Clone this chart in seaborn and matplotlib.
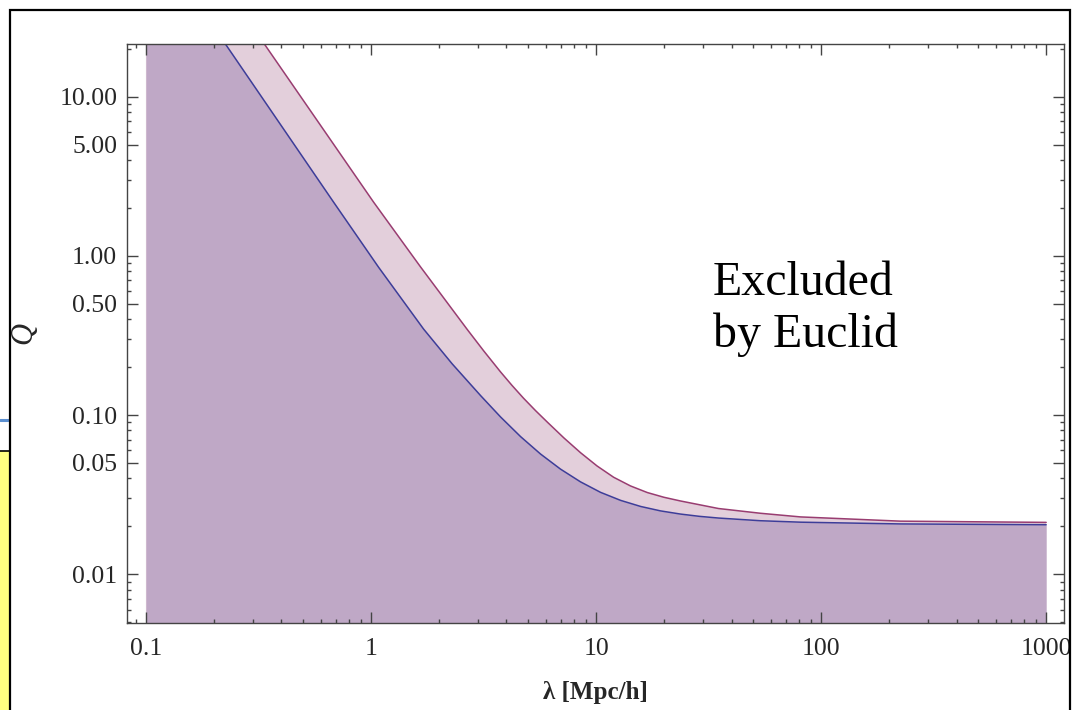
import numpy as np
import pandas as pd
import matplotlib
matplotlib.use("Agg")
import matplotlib.pyplot as plt
import matplotlib.ticker as mticker
from matplotlib.patches import Rectangle
from matplotlib.lines import Line2D
import seaborn as sns

# values (lambda in Mpc/h, Q)
lam_blue = [0.1, 0.2256, 0.681, 1.08, 1.712, 2.293, 3.07, 3.766, 4.62, 5.667, 6.95, 8.531,
            10.47, 12.86, 15.8, 19.36, 23.7, 28.8, 35.0, 53.8, 81.1, 225, 1000]
q_blue = [113, 21.38, 2.18, 0.849, 0.347, 0.2099, 0.1324, 0.0972, 0.0732, 0.0569, 0.04575, 0.03804,
          0.03269, 0.0291, 0.02664, 0.02499, 0.02388, 0.0231, 0.02254, 0.02168, 0.02123, 0.0207, 0.02046]

lam_red = [0.1, 0.336, 1.026, 1.66, 2.685, 3.178, 3.76, 4.23, 4.76, 5.384, 6.09, 7.209, 8.53,
           10.10, 11.97, 14.22, 16.9, 20.02, 23.7, 35.0, 53.8, 81.1, 225, 1000]
q_red = [256, 21.38, 2.178, 0.852, 0.3428, 0.2515, 0.1869, 0.1536, 0.1276, 0.1066, 0.08994, 0.07166, 0.05802,
         0.04789, 0.04066, 0.03587, 0.03259, 0.03044, 0.02886, 0.02587, 0.02415, 0.02291, 0.02155, 0.02117]

x_ticks = [0.1, 1, 10, 100, 1000]
x_tick_labels = ["0.1", "1", "10", "100", "1000"]
y_ticks = [0.01, 0.05, 0.1, 0.5, 1, 5, 10]
y_tick_labels = ["0.01", "0.05", "0.10", "0.50", "1.00", "5.00", "10.00"]

blue = "#3d3d99"
red = "#993d71"
purple_fill = "#bfa8c6"
pink_fill = "#e3cfdb"
spine_col = "#444444"

sns.set_style("ticks")
plt.rcParams['font.family'] = ['Liberation Serif', 'DejaVu Serif']

df_blue = pd.DataFrame({"lam": lam_blue, "Q": q_blue})
df_red = pd.DataFrame({"lam": lam_red, "Q": q_red})

fig = plt.figure(figsize=(10.72, 7.10), dpi=100)
ax = fig.add_axes([127 / 1072, 87 / 710, 937 / 1072, 579 / 710])

ymin, ymax = 0.00494, 21.4

# filled regions down to the bottom edge
ax.fill_between(df_red["lam"], ymin, df_red["Q"], color=pink_fill, lw=0, zorder=1)
ax.fill_between(df_blue["lam"], ymin, df_blue["Q"], color=purple_fill, lw=0, zorder=1.1)

sns.lineplot(data=df_red, x="lam", y="Q", color=red, lw=1.1, ax=ax, sort=False,
             errorbar=None, zorder=2)
sns.lineplot(data=df_blue, x="lam", y="Q", color=blue, lw=1.1, ax=ax, sort=False,
             errorbar=None, zorder=2)

ax.set_xscale("log")
ax.set_yscale("log")
ax.set_xlim(0.0824, 1200)
ax.set_ylim(ymin, ymax)

ax.xaxis.set_major_locator(mticker.FixedLocator(x_ticks))
ax.xaxis.set_major_formatter(mticker.FixedFormatter(x_tick_labels))
ax.xaxis.set_minor_locator(mticker.LogLocator(base=10, subs=np.arange(2, 10), numticks=20))
ax.xaxis.set_minor_formatter(mticker.NullFormatter())

ax.yaxis.set_major_locator(mticker.FixedLocator(y_ticks))
ax.yaxis.set_major_formatter(mticker.FixedFormatter(y_tick_labels))
ax.yaxis.set_minor_locator(mticker.LogLocator(base=10, subs=np.arange(2, 10), numticks=20))
ax.yaxis.set_minor_formatter(mticker.NullFormatter())

# ticks sit on top of the filled area
ax.set_axisbelow(False)
ax.grid(False, which="both")
ax.tick_params(which="both", direction="in", top=True, right=True, color=spine_col, width=1)
ax.tick_params(which="major", length=8, labelsize=18.5)
ax.tick_params(axis="x", which="major", pad=11)
ax.tick_params(axis="y", which="major", pad=7)
ax.tick_params(which="minor", length=3.2)

for s in ax.spines.values():
    s.set_color(spine_col)
    s.set_linewidth(1.0)
    s.set_zorder(3)

ax.set_xlabel("λ [Mpc/h]", fontsize=18, fontweight="bold", labelpad=15)
ax.set_ylabel("Q", fontsize=22, fontstyle="italic")
ax.yaxis.set_label_coords(-0.095, 0.5)

ax.text(0.625, 0.625, "Excluded\nby Euclid", transform=ax.transAxes,
        fontsize=34.5, ha="left", va="top", color="black")

# slide frame and bits of the slide behind it
W, H = 1072, 710
fig.add_artist(Rectangle((0, -0.01), 9 / W, (H - 451) / H + 0.01, transform=fig.transFigure,
                         facecolor="#ffff80", edgecolor="none", zorder=5))
fig.add_artist(Line2D([0, 9 / W], [1 - 451 / H, 1 - 451 / H], transform=fig.transFigure,
                      color="black", lw=1.2, zorder=6))
fig.add_artist(Line2D([0, 8 / W], [1 - 420 / H, 1 - 420 / H], transform=fig.transFigure,
                      color="#5b8fd0", lw=2.2, zorder=6))
fig.add_artist(Rectangle((9.5 / W, -0.02), 1060 / W, 1 + 0.02 - 9.5 / H, transform=fig.transFigure,
                         fill=False, edgecolor="black", lw=1.6, zorder=7))

fig.savefig("out.png", dpi=100)
